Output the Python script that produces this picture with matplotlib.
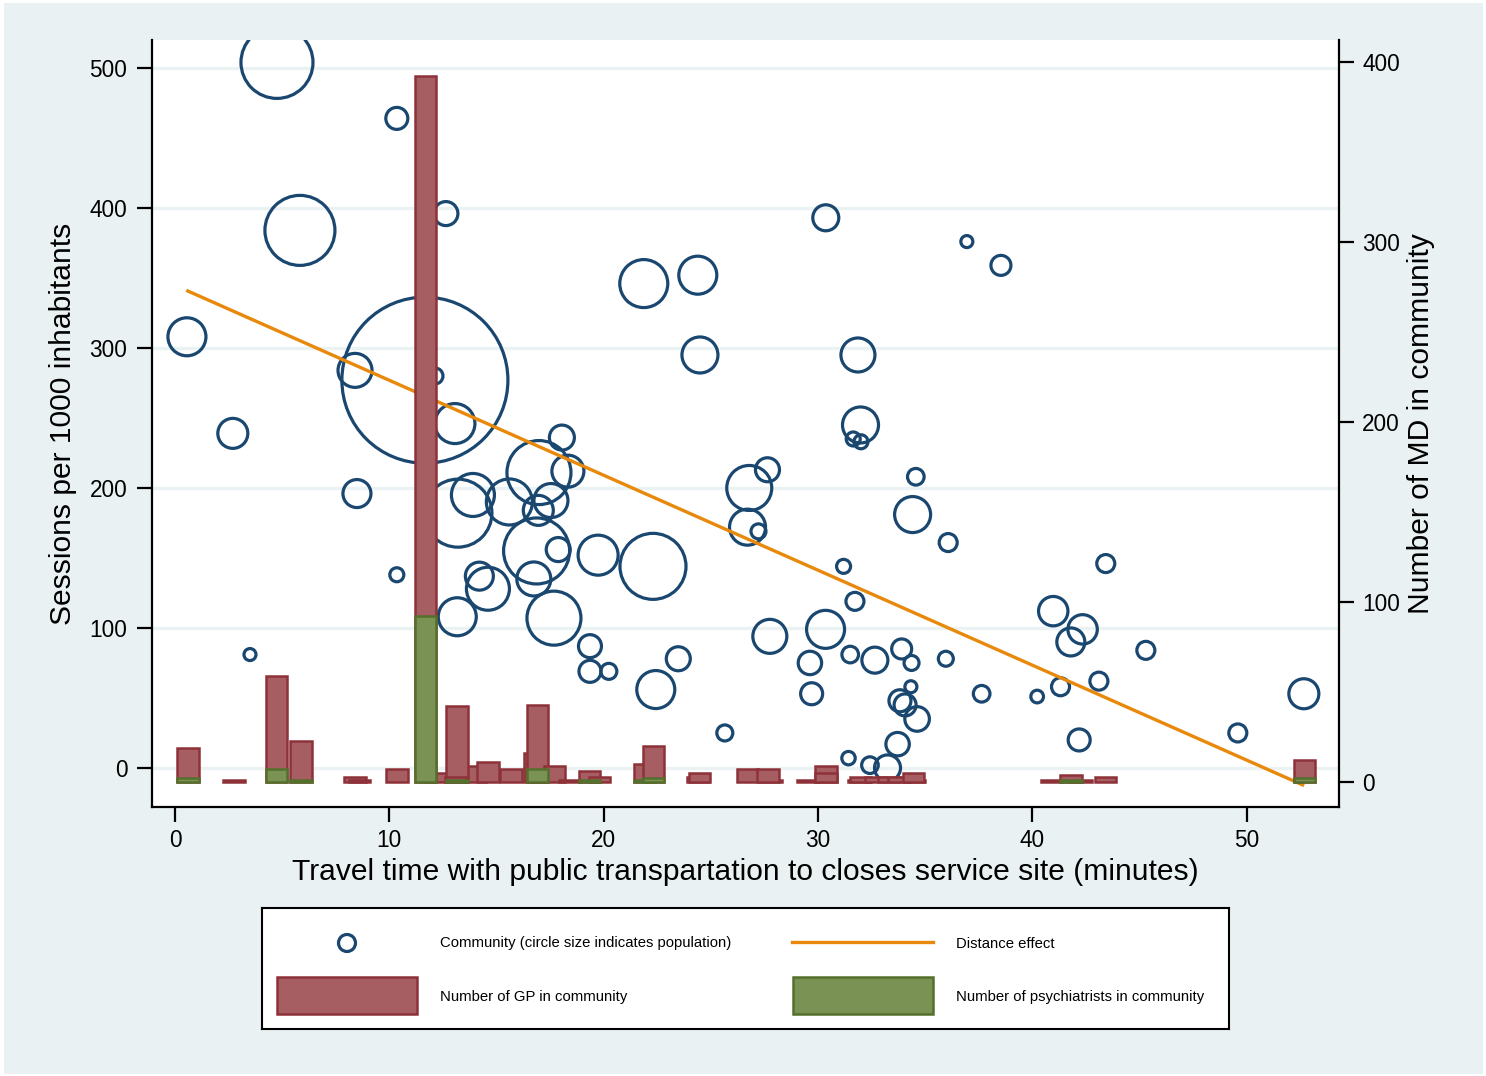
import matplotlib
matplotlib.use("Agg")
import matplotlib.pyplot as plt
from matplotlib.patches import Rectangle
import numpy as np

plt.rcParams['font.family'] = ['Liberation Sans', 'DejaVu Sans']

# communities: travel time (min), sessions per 1000 inhabitants, population
comm_time = [4.76, 10.35, 12.64, 5.83, 0.56, 8.40, 11.66, 12.13, 13.06, 2.70,
             8.49, 18.05, 16.98, 18.33, 13.90, 13.20, 15.60, 16.95, 17.54, 16.87,
             17.88, 19.74, 14.20, 14.60, 16.74, 13.17, 17.68, 19.36, 22.30, 3.50,
             10.35, 19.36, 20.24, 21.87, 24.39, 24.49, 30.36, 36.94, 38.53, 31.86,
             31.98, 31.64, 32.00, 26.79, 27.64, 26.71, 27.22, 34.56, 34.41, 36.07,
             31.19, 31.72, 27.75, 30.35, 29.62, 31.50, 32.65, 33.90, 34.36, 35.96,
             29.70, 34.33, 33.82, 34.06, 34.62, 37.63, 40.22, 41.31, 40.97, 42.34,
             41.79, 42.18, 31.42, 32.42, 33.71, 33.24, 43.10, 43.42, 45.29, 49.58,
             52.66, 25.65, 23.48, 22.43]
comm_sessions = [504, 464, 396, 384, 308, 284, 277, 280, 246, 239,
                 196, 236, 211, 212, 195, 182, 190, 184, 191, 155,
                 156, 152, 137, 128, 135, 108, 107, 87, 144, 81,
                 138, 69, 69, 346, 352, 295, 393, 376, 359, 295,
                 245, 235, 233, 200, 213, 172, 169, 208, 181, 161,
                 144, 119, 94, 99, 75, 81, 77, 85, 75, 78,
                 53, 58, 48, 45, 35, 53, 51, 58, 112, 99,
                 90, 20, 7, 2, 17, 0, 62, 146, 84, 25,
                 53, 25, 78, 56]
comm_pop = [12960, 1210, 1440, 12250, 3610, 2890, 68890, 640, 4000, 2250,
            1960, 1560, 10240, 2560, 4620, 11560, 5290, 2250, 2890, 10890,
            1440, 4000, 1960, 4620, 2890, 3610, 7290, 1320, 10890, 360,
            490, 1210, 640, 5760, 3610, 3240, 1690, 360, 1000, 2890,
            3240, 490, 490, 5060, 1440, 3240, 560, 690, 3240, 810,
            490, 810, 2890, 3610, 1370, 690, 1690, 1000, 560, 560,
            1210, 360, 1210, 1210, 1510, 690, 400, 810, 2160, 2160,
            1960, 1210, 450, 690, 1370, 1690, 810, 810, 810, 810,
            2250, 640, 1440, 3610]

# doctors per community (right axis)
gp_time = [0.6, 2.75, 4.75, 5.88, 8.4, 8.6, 10.35, 12.2, 11.7, 14.0,
           13.15, 13.1, 14.6, 15.67, 16.8, 16.9, 17.7, 18.4, 19.35, 19.8,
           21.9, 22.33, 24.4, 24.46, 26.7, 27.8, 27.66, 29.5, 30.36, 30.36,
           31.9, 31.98, 32.68, 33.3, 33.77, 34.5, 34.45, 40.9, 42.3, 41.8,
           43.4, 52.7]
gp_count = [19, 1, 59, 23, 3, 1, 7, 5, 392, 9,
            42, 3, 11, 7, 16, 43, 9, 1, 6, 3,
            10, 20, 3, 5, 7, 1, 7, 1, 9, 5,
            1, 3, 3, 3, 3, 1, 5, 1, 1, 4,
            3, 12]
psy_time = [0.6, 4.75, 5.88, 11.7, 13.15, 16.9, 19.35, 21.9, 22.33, 41.8, 52.7]
psy_count = [2, 7, 1, 92, 1, 7, 1, 1, 2, 1, 2]

# fitted distance effect (end points)
fit_time = [0.6, 52.6]
fit_sessions = [340.7, -12.1]

BG = '#e9f1f2'
NAVY = '#1a476f'
ORANGE = '#e8890c'
RED_FILL, RED_EDGE = '#a65e62', '#8e3239'
GREEN_FILL, GREEN_EDGE = '#7a9254', '#54702c'
GRID = '#eaf2f3'

W, H = 1486, 1076
fig = plt.figure(figsize=(W / 100, H / 100), dpi=100)
fig.patch.set_facecolor('white')
fig.patches.append(Rectangle((4 / W, 2 / H), 1479 / W, 1071 / H, transform=fig.transFigure,
                             facecolor=BG, edgecolor='none', zorder=-10))

ax = fig.add_axes([152 / W, 1 - 807 / H, (1339 - 152) / W, (807 - 40) / H])
ax.set_facecolor('white')

size_scale = 0.2074
ax.scatter(comm_time, comm_sessions, s=np.array(comm_pop) * size_scale,
           facecolors='none', edgecolors=NAVY, linewidths=2.3, zorder=3)
ax.plot(fit_time, fit_sessions, color=ORANGE, lw=2.4, zorder=4)

ax.set_xlim(-1.07, 54.3)
ax.set_ylim(-27.9, 520)
ax.set_xticks(range(0, 51, 10))
ax.set_yticks(range(0, 501, 100))
ax.grid(axis='y', color=GRID, lw=2.4)
ax.set_axisbelow(True)

ax2 = ax.twinx()
ax2.bar(gp_time, gp_count, width=1.0, color=RED_FILL, edgecolor=RED_EDGE, linewidth=1.8)
ax2.bar(psy_time, psy_count, width=1.0, color=GREEN_FILL, edgecolor=GREEN_EDGE, linewidth=1.8)
ax2.set_ylim(-13.9, 412.2)
ax2.set_yticks(range(0, 401, 100))

for sp in ['top', 'right']:
    ax.spines[sp].set_visible(False)
for sp in ['top', 'left', 'bottom']:
    ax2.spines[sp].set_visible(False)
for a in (ax, ax2):
    for sp in a.spines.values():
        sp.set_linewidth(1.6)

ax.tick_params(axis='both', length=10.8, width=1.6, labelsize=16.3)
ax.tick_params(axis='y', pad=7)
ax.tick_params(axis='x', pad=5)
ax2.tick_params(axis='y', length=10.8, width=1.6, labelsize=16.3, pad=6)

ax.set_xlabel('Travel time with public transpartation to closes service site (minutes)', fontsize=21.6)
ax.xaxis.set_label_coords(0.5, (807 - 872) / 767)
ax.xaxis.label.set_va('center')
ax.set_ylabel('Sessions per 1000 inhabitants', fontsize=21.6)
ax.yaxis.set_label_coords((63 - 152) / 1187, 0.5)
ax.yaxis.label.set_va('center')
ax2.set_ylabel('Number of MD in community', fontsize=21.6)
ax2.yaxis.set_label_coords((1421 - 152) / 1187, 0.5)
ax2.yaxis.label.set_va('center')

# legend box
lx0, ly0, lx1, ly1 = 261.5, 907.5, 1229, 1028.5
lax = fig.add_axes([lx0 / W, 1 - ly1 / H, (lx1 - lx0) / W, (ly1 - ly0) / H])
lax.set_xlim(0, lx1 - lx0)
lax.set_ylim(ly1 - ly0, 0)
lax.set_xticks([])
lax.set_yticks([])
for sp in lax.spines.values():
    sp.set_linewidth(1.5)
    sp.set_color('black')
lax.scatter([85.5], [35.5], s=(2 * 8.5 * 0.72) ** 2, facecolors='none', edgecolors=NAVY, linewidths=2.3)
lax.plot([531, 672], [34.5, 34.5], color=ORANGE, lw=2.4)
lax.add_patch(Rectangle((15.5, 69), 140, 37, facecolor=RED_FILL, edgecolor=RED_EDGE, lw=1.8))
lax.add_patch(Rectangle((532, 69), 140, 37, facecolor=GREEN_FILL, edgecolor=GREEN_EDGE, lw=1.8))
leg_fs = 10.7
lax.text(178.5, 36, 'Community (circle size indicates population)', fontsize=leg_fs, va='center')
lax.text(694.5, 36, 'Distance effect', fontsize=leg_fs, va='center')
lax.text(178.5, 89, 'Number of GP in community', fontsize=leg_fs, va='center')
lax.text(694.5, 89, 'Number of psychiatrists in community', fontsize=leg_fs, va='center')

fig.savefig('out.png', dpi=100)
